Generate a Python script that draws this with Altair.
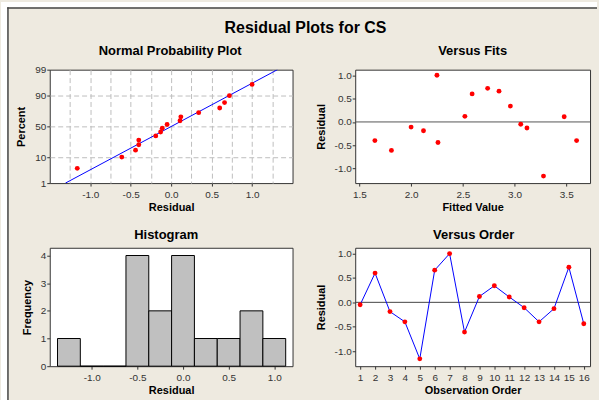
import altair as alt
import pandas as pd
from statistics import NormalDist

FONT = "Liberation Sans"
BG = "#EEEAE0"
FRAME = "#333333"
TITLE = "Residual Plots for CS"
PANEL_TITLES = ["Normal Probability Plot", "Versus Fits", "Histogram", "Versus Order"]
AXIS_TITLES = {"npp_x": "Residual", "npp_y": "Percent", "fit_x": "Fitted Value",
               "res_y": "Residual", "hist_x": "Residual", "hist_y": "Frequency",
               "ord_x": "Observation Order"}

# ---- data ----
observation = list(range(1, 17))
residuals = [-0.05, 0.60, -0.19, -0.40, -1.16, 0.66, 1.00, -0.61,
             0.12, 0.34, 0.11, -0.11, -0.40, -0.13, 0.72, -0.44]
fitted = [3.06, 2.59, 2.12, 1.65, 3.28, 2.85, 2.25, 1.81,
          2.52, 2.96, 3.48, 2.00, 3.60, 3.12, 2.74, 2.26]

hist_lo = [-1.375, -1.125, -0.875, -0.625, -0.375, -0.125, 0.125, 0.375, 0.625, 0.875]
hist_hi = [-1.125, -0.875, -0.625, -0.375, -0.125, 0.125, 0.375, 0.625, 0.875, 1.125]
hist_count = [1, 0, 0, 4, 2, 4, 1, 1, 2, 1]

pct_ticks = [1, 10, 50, 90, 99]
line_pct = [1, 99]
npp_x_ticks = [-1.25, -1.0, -0.75, -0.5, -0.25, 0.0, 0.25, 0.5, 0.75, 1.0, 1.25]
res_ticks = [-1.0, -0.5, 0.0, 0.5, 1.0]
fit_ticks = [1.5, 2.0, 2.5, 3.0, 3.5]
freq_ticks = [0, 1, 2, 3, 4]
zero_line = [0.0]

# ---- derived tables ----
nd = NormalDist()
n = len(residuals)
npp_df = pd.DataFrame({
    "residual": sorted(residuals),
    "z": [nd.inv_cdf((i + 1 - 0.3) / (n + 0.4)) for i in range(n)],
})
mu = sum(residuals) / n
sd = (sum((r - mu) ** 2 for r in residuals) / (n - 1)) ** 0.5
line_df = pd.DataFrame({"z": [nd.inv_cdf(p / 100) for p in line_pct]})
line_df["residual"] = mu + sd * line_df["z"]
z_ticks = [nd.inv_cdf(p / 100) for p in pct_ticks]
z_lim = nd.inv_cdf(0.99)
pct_label_expr = " : ".join(
    f"datum.value < {z + 0.01:.4f} ? '{p}'" for z, p in zip(z_ticks[:-1], pct_ticks[:-1])
) + f" : '{pct_ticks[-1]}'"

obs_df = pd.DataFrame({"obs": observation, "residual": residuals, "fitted": fitted})
hist_df = pd.DataFrame({"lo": hist_lo, "hi": hist_hi, "count": hist_count,
                        "base": [0] * len(hist_count)})
zero_df = pd.DataFrame({"residual": zero_line})
one_row = pd.DataFrame({"t": [TITLE]})

MINUS = "replace(format(datum.value, '.1f'), '\u2212', '-')"
ODD = "abs(datum.value*2 - round(datum.value*2)) > 0.01"

W1, W2, H1, H2 = 244, 236, 114, 119
RES_DOM = [-1.31, 1.12]


def panel_title(text, x, y):
    return alt.Chart(pd.DataFrame({"p": [text]})).mark_text(
        font=FONT, fontSize=13, fontWeight="bold", align="center",
        baseline="alphabetic", color="black").encode(
        text="p:N", x=alt.value(x), y=alt.value(y))


# shared scales / axes
xs_npp = alt.Scale(domain=[-1.5, 1.5], nice=False, zero=False)
ys_npp = alt.Scale(domain=[-z_lim, z_lim], nice=False, zero=False)
ax_npp_x = alt.Axis(values=npp_x_ticks, grid=True, gridDash=[5, 3], gridColor="#BDBDBD",
                    labelExpr=f"{ODD} ? '' : {MINUS}",
                    tickOpacity={"condition": {"test": ODD, "value": 0}, "value": 1})
ax_npp_y = alt.Axis(values=z_ticks, grid=True, gridDash=[5, 3], gridColor="#BDBDBD",
                    gridOpacity={"condition": {"test": "abs(datum.value) > 2", "value": 0}, "value": 1},
                    labelExpr=pct_label_expr)
xs_fit = alt.Scale(domain=[1.46, 3.73], nice=False, zero=False)
ys_res = alt.Scale(domain=RES_DOM, nice=False, zero=False)
ax_res_y = alt.Axis(values=res_ticks, labelExpr=MINUS)
ax_fit_x = alt.Axis(values=fit_ticks, labelExpr=MINUS)
xs_ord = alt.Scale(domain=[0.67, 16.42], nice=False, zero=False)
ax_ord_x = alt.Axis(values=observation, format="d")

# ---------------- Normal probability plot ----------------
deco_left = alt.Chart(one_row).mark_rect(color="white").encode(
    x=alt.value(-49), x2=alt.value(-42.5), y=alt.value(-68), y2=alt.value(332))
deco_top = alt.Chart(one_row).mark_rect(color="white").encode(
    x=alt.value(-49), x2=alt.value(550), y=alt.value(-68), y2=alt.value(-62.5))
border_v = alt.Chart(one_row).mark_rule(color="#444444", strokeWidth=1.5).encode(
    x=alt.value(-42), y=alt.value(-62.75), y2=alt.value(332))
border_h = alt.Chart(one_row).mark_rule(color="#444444", strokeWidth=1.5).encode(
    x=alt.value(-42.75), x2=alt.value(550), y=alt.value(-62))
main_title = alt.Chart(one_row).mark_text(
    font=FONT, fontSize=16, fontWeight="bold", align="center",
    baseline="alphabetic", color="black").encode(
    text="t:N", x=alt.value(257), y=alt.value(-37))

npp_line = alt.Chart(line_df).mark_line(color="#0000FF", strokeWidth=1, clip=True).encode(
    x=alt.X("residual:Q", scale=xs_npp, title=AXIS_TITLES["npp_x"], axis=ax_npp_x),
    y=alt.Y("z:Q", scale=ys_npp, title=AXIS_TITLES["npp_y"], axis=ax_npp_y))
npp_pts = alt.Chart(npp_df).mark_circle(size=24, color="#FF0000", opacity=1).encode(
    x=alt.X("residual:Q", scale=xs_npp, title=AXIS_TITLES["npp_x"], axis=ax_npp_x),
    y=alt.Y("z:Q", scale=ys_npp, title=AXIS_TITLES["npp_y"], axis=ax_npp_y))

npp = alt.layer(deco_left, deco_top, border_v, border_h, main_title,
                panel_title(PANEL_TITLES[0], W1 / 2 - 1, -14.5),
                npp_line, npp_pts).properties(width=W1, height=H1)

# ---------------- Versus fits ----------------
fit_zero = alt.Chart(zero_df).mark_rule(color="#555555", strokeWidth=1).encode(
    y=alt.Y("residual:Q", scale=ys_res, title=AXIS_TITLES["res_y"], axis=ax_res_y))
fit_pts = alt.Chart(obs_df).mark_circle(size=24, color="#FF0000", opacity=1).encode(
    x=alt.X("fitted:Q", scale=xs_fit, title=AXIS_TITLES["fit_x"], axis=ax_fit_x),
    y=alt.Y("residual:Q", scale=ys_res, title=AXIS_TITLES["res_y"], axis=ax_res_y))
fits = alt.layer(panel_title(PANEL_TITLES[1], W2 / 2, -14.5), fit_zero, fit_pts).properties(
    width=W2, height=H1)

# ---------------- Histogram ----------------
xs_hist = alt.Scale(domain=[-1.46, 1.2], nice=False, zero=False)
ys_hist = alt.Scale(domain=[0, 4.28], nice=False)
hist_bars = alt.Chart(hist_df).mark_rect(color="#C0C0C0", stroke="black", strokeWidth=1).encode(
    x=alt.X("lo:Q", scale=xs_hist, title=AXIS_TITLES["hist_x"],
            axis=alt.Axis(values=res_ticks, labelExpr=MINUS)),
    x2="hi:Q",
    y=alt.Y("count:Q", scale=ys_hist, title=AXIS_TITLES["hist_y"],
            axis=alt.Axis(values=freq_ticks, format="d")),
    y2="base:Q",
)
hist = alt.layer(panel_title(PANEL_TITLES[2], W1 / 2 - 5, -8.5), hist_bars).properties(
    width=W1, height=H2)

# ---------------- Versus order ----------------
ord_zero = alt.Chart(zero_df).mark_rule(color="#444444", strokeWidth=1).encode(
    y=alt.Y("residual:Q", scale=ys_res, title=AXIS_TITLES["res_y"], axis=ax_res_y))
ord_line = alt.Chart(obs_df).mark_line(color="#0000FF", strokeWidth=1).encode(
    x=alt.X("obs:Q", scale=xs_ord, title=AXIS_TITLES["ord_x"], axis=ax_ord_x),
    y=alt.Y("residual:Q", scale=ys_res, title=AXIS_TITLES["res_y"], axis=ax_res_y))
ord_pts = alt.Chart(obs_df).mark_circle(size=24, color="#FF0000", opacity=1).encode(
    x=alt.X("obs:Q", scale=xs_ord, title=AXIS_TITLES["ord_x"], axis=ax_ord_x),
    y=alt.Y("residual:Q", scale=ys_res, title=AXIS_TITLES["res_y"], axis=ax_res_y))
order = alt.layer(panel_title(PANEL_TITLES[3], W2 / 2 + 1, -9), ord_zero, ord_line, ord_pts
                  ).properties(width=W2, height=H2)

chart = alt.concat(npp, fits, hist, order, columns=2,
                   spacing={"row": 65, "column": 63}, bounds="flush").properties(
    padding=0, background=BG
).configure_view(
    fill="white", stroke=FRAME, strokeWidth=1
).configure_axis(
    domain=False, grid=False, tickColor="#333333", tickSize=3,
    labelFont=FONT, labelFontSize=10, labelColor="#333333", labelPadding=2,
    labelFlush=False, labelOverlap=False,
    titleFont=FONT, titleFontSize=11, titleFontWeight="bold", titleColor="black",
).configure_axisX(titlePadding=2.5, labelPadding=3).configure_axisY(titlePadding=8, labelPadding=1)

chart.save("out.html", embed_options={"renderer": "svg", "actions": False})
